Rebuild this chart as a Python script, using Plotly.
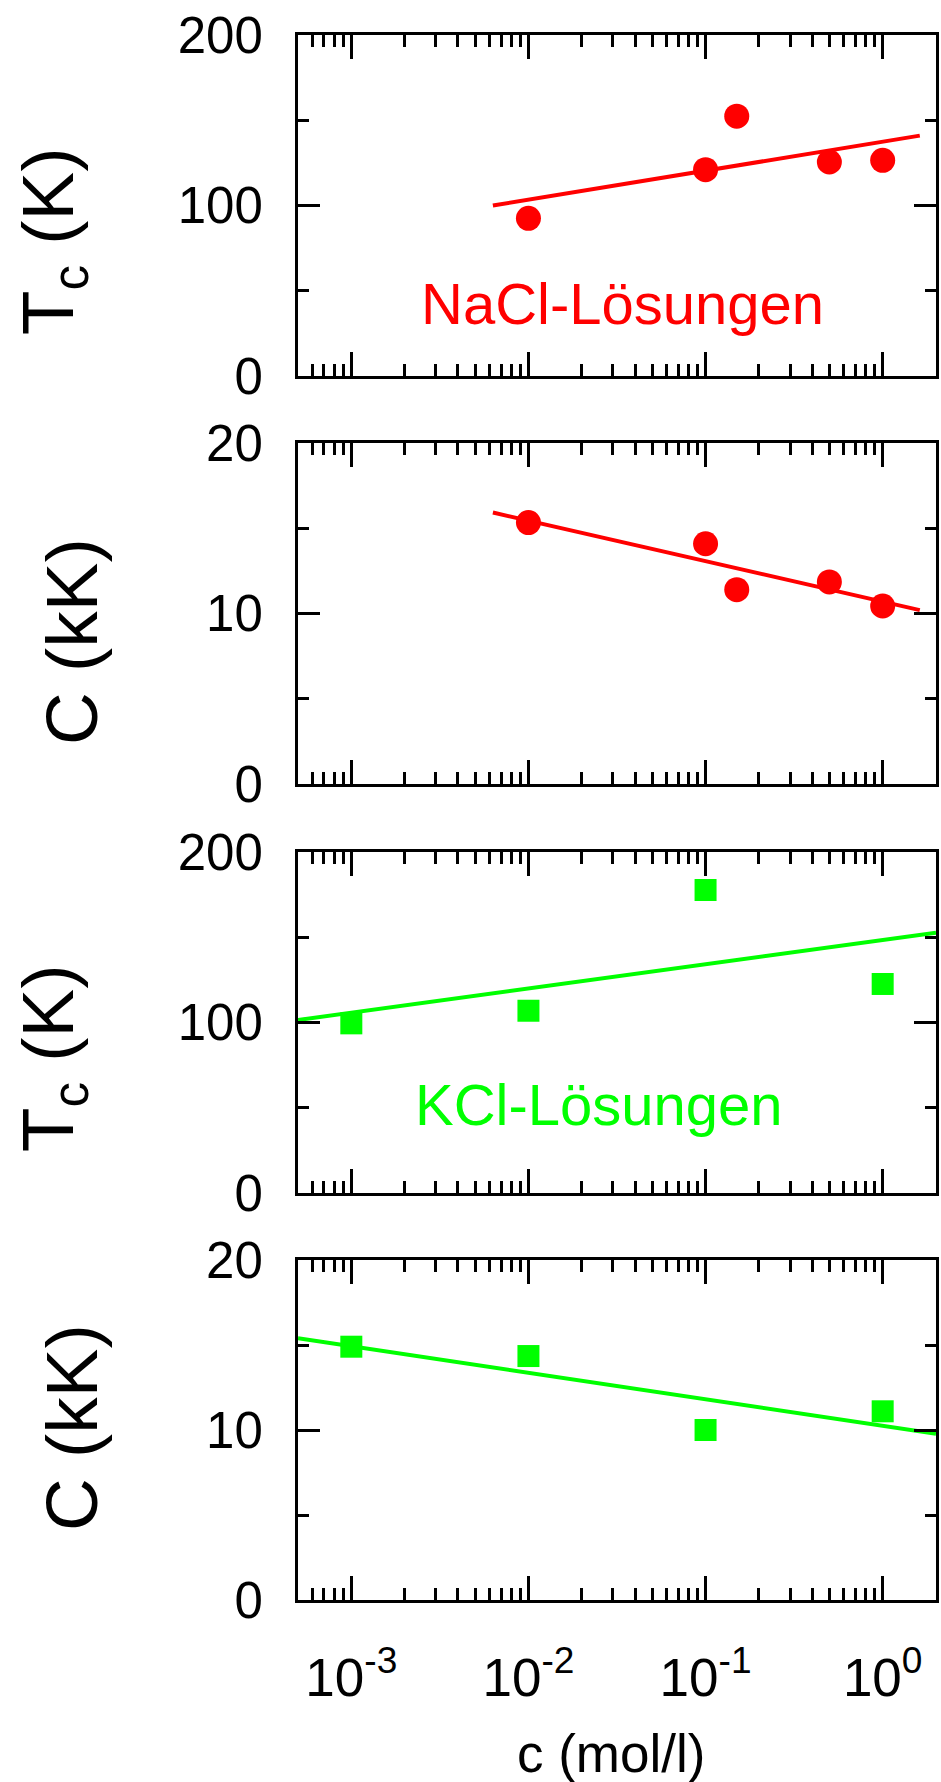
import plotly.graph_objects as go
import math

# ---- data ----
conc_nacl = [0.01, 0.1, 0.15, 0.5, 1.0]
tc_nacl = [92.5, 121.0, 152.4, 125.5, 126.5]
cc_nacl = [15.33, 14.09, 11.4, 11.85, 10.44]
fit_x_nacl = [0.0063, 1.62]
fit_tc_nacl = [100.0, 141.0]
fit_cc_nacl = [15.92, 10.2]

conc_kcl = [0.001, 0.01, 0.1, 1.0]
tc_kcl = [99.5, 106.9, 177.7, 122.6]
cc_kcl = [14.9, 14.35, 10.0, 11.1]
fit_x_kcl = [0.0005, 2.0]
fit_tc_kcl = [101.5, 152.7]
fit_cc_kcl = [15.4, 9.78]

x_tickvals = [0.001, 0.01, 0.1, 1.0]
x_ticktext = ["10<sup>-3</sup>", "10<sup>-2</sup>", "10<sup>-1</sup>", "10<sup>0</sup>"]
tc_ticks = [0, 100, 200]
cc_ticks = [0, 10, 20]

RED = "#FF0000"
GREEN = "#00FF00"
FONT = "Liberation Sans, Arial, sans-serif"

W, H = 941, 1782
ML, MR, MT, MB = 298, 2, 35, 182
plot_h = H - MT - MB
bottom_px = H - MB


def py(px):
    return (bottom_px - px) / plot_h


def pxx(px):
    return (px - ML) / (W - ML - MR)


panels_px = [(35, 376), (443, 784), (852, 1193), (1260, 1600)]
domains = [[py(b), py(t)] for (t, b) in panels_px]

minor_x = [m * 10.0 ** d for d in range(-4, 1) for m in range(2, 10)]
minor_x = [v for v in minor_x if 0.0005 <= v <= 2.0]

fig = go.Figure()

series = [
    (conc_nacl, tc_nacl, fit_x_nacl, fit_tc_nacl, RED, "circle", 25),
    (conc_nacl, cc_nacl, fit_x_nacl, fit_cc_nacl, RED, "circle", 25),
    (conc_kcl, tc_kcl, fit_x_kcl, fit_tc_kcl, GREEN, "square", 22),
    (conc_kcl, cc_kcl, fit_x_kcl, fit_cc_kcl, GREEN, "square", 22),
]

for i, (xs, ys, fx, fy, col, sym, sz) in enumerate(series):
    k = "" if i == 0 else str(i + 1)
    fig.add_trace(go.Scatter(x=fx, y=fy, mode="lines", line=dict(color=col, width=4),
                             xaxis="x" + k, yaxis="y" + k, showlegend=False, hoverinfo="skip"))
    fig.add_trace(go.Scatter(x=xs, y=ys, mode="markers",
                             marker=dict(color=col, symbol=sym, size=sz, line=dict(width=0)),
                             xaxis="x" + k, yaxis="y" + k, showlegend=False))

layout = dict(
    width=W, height=H,
    margin=dict(l=ML, r=MR, t=MT, b=MB),
    paper_bgcolor="white", plot_bgcolor="white",
    font=dict(family=FONT, color="black", size=50),
    showlegend=False,
)

for i in range(4):
    k = "" if i == 0 else str(i + 1)
    xa = dict(
        type="log", range=[math.log10(0.0005), math.log10(2.0)],
        domain=[0, 1], anchor="y" + k,
        showline=True, linewidth=3, linecolor="black", mirror="allticks",
        ticks="inside", ticklen=24, tickwidth=3, tickcolor="black",
        tickmode="array", tickvals=x_tickvals, ticktext=x_ticktext,
        showticklabels=(i == 3), tickfont=dict(size=53, family=FONT),
        ticklabelstandoff=29,
        minor=dict(ticks="inside", ticklen=12, tickwidth=3, tickcolor="black",
                   tickmode="array", tickvals=minor_x, showgrid=False),
        showgrid=False, zeroline=False,
    )
    is_tc = i in (0, 2)
    ya = dict(
        range=[0, 200] if is_tc else [0, 20],
        domain=domains[i], anchor="x" + k,
        showline=True, linewidth=3, linecolor="black", mirror="allticks",
        ticks="inside", ticklen=22, tickwidth=3, tickcolor="black",
        tickmode="array", tickvals=tc_ticks if is_tc else cc_ticks,
        tickfont=dict(size=51, family=FONT),
        ticklabelstandoff=22,
        minor=dict(ticks="inside", ticklen=11, tickwidth=3, tickcolor="black",
                   tickmode="array", tickvals=[50, 150] if is_tc else [5, 15], showgrid=False),
        showgrid=False, zeroline=False,
    )
    layout["xaxis" + k] = xa
    layout["yaxis" + k] = ya

annotations = [
    dict(text="NaCl-Lösungen", x=pxx(624), y=py(304), font=dict(size=58, color=RED, family=FONT)),
    dict(text="KCl-Lösungen", x=pxx(600), y=py(1104), font=dict(size=58, color=GREEN, family=FONT)),
    dict(text="T<sub>c</sub> (K)", x=pxx(52), y=py(241), textangle=-90, font=dict(size=73, family=FONT)),
    dict(text="C (kK)", x=pxx(70), y=py(642), textangle=-90, font=dict(size=73, family=FONT)),
    dict(text="T<sub>c</sub> (K)", x=pxx(52), y=py(1058), textangle=-90, font=dict(size=73, family=FONT)),
    dict(text="C (kK)", x=pxx(70), y=py(1428), textangle=-90, font=dict(size=73, family=FONT)),
    dict(text="c (mol/l)", x=pxx(612), y=py(1754), font=dict(size=53, family=FONT)),
]
for a in annotations:
    a.update(xref="paper", yref="paper", showarrow=False, xanchor="center", yanchor="middle")
layout["annotations"] = annotations

fig.update_layout(**layout)
fig.write_html("out.html")
